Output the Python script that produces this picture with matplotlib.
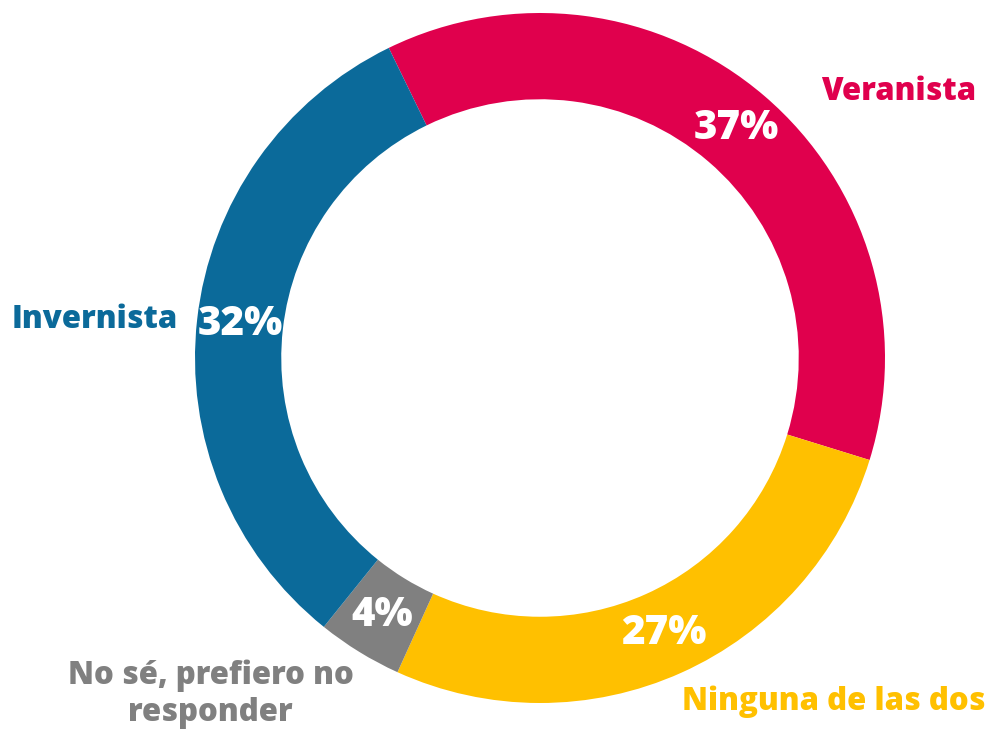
import matplotlib.pyplot as plt

# preferencia de temporada
categorias = ['Veranista', 'Ninguna de las dos', 'No sé, prefiero no\nresponder', 'Invernista']
porcentajes = [37, 27, 4, 32]
colores = ['#E0004D', '#FFC000', '#808080', '#0B6A9A']

# posiciones de las etiquetas de categoria (coordenadas del eje, radio exterior = 1)
pos_etiquetas = [(1.04, 0.77), (0.85, -0.995), (-0.955, -0.975), (-1.29, 0.11)]

plt.rcParams['font.family'] = ['Open Sans', 'DejaVu Sans']

fig = plt.figure(figsize=(9.92, 7.3), dpi=100)
ax = fig.add_axes([0, 0, 1, 1])

wedges, textos, pcts = ax.pie(
    porcentajes,
    colors=colores,
    startangle=116,
    counterclock=False,
    radius=1.0,
    wedgeprops=dict(width=0.25, edgecolor='none', linewidth=0),
    autopct=lambda p: f'{p:.0f}%',
    pctdistance=0.875,
    textprops=dict(color='white', fontsize=29, fontweight=800),
)

for t in pcts:
    t.set_ha('center')
    t.set_va('center')

for cat, col, (x, y) in zip(categorias, colores, pos_etiquetas):
    ax.text(x, y, cat, color=col, fontsize=22.5, fontweight=800,
            ha='center', va='center', linespacing=1.2)

# centro en (540, 358) px con radio de 345 px
ax.set_xlim(-540 / 345, (992 - 540) / 345)
ax.set_ylim(-(730 - 358) / 345, 358 / 345)
ax.set_aspect('equal')
ax.axis('off')

fig.savefig('out.png', dpi=100)
